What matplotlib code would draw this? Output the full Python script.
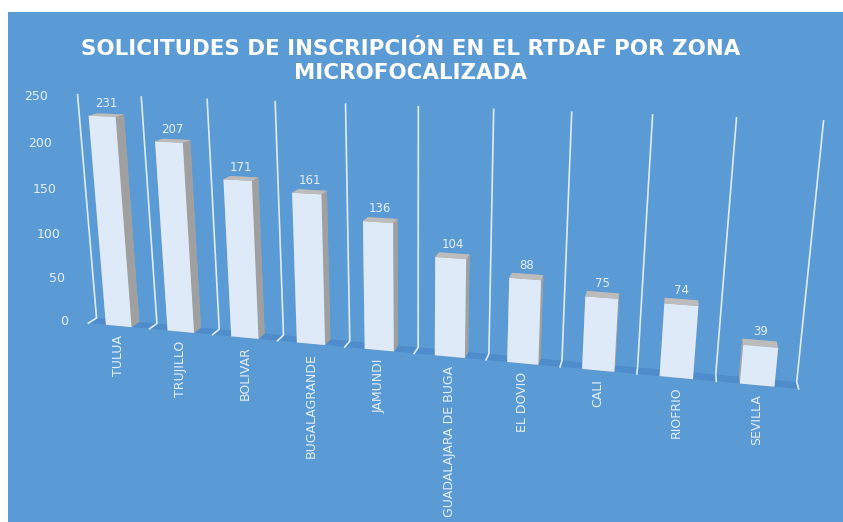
import numpy as np
import matplotlib
matplotlib.use('Agg')
import matplotlib.pyplot as plt
from matplotlib.patches import Rectangle
from mpl_toolkits.mplot3d import proj3d
from mpl_toolkits.mplot3d.art3d import Poly3DCollection

# datos
zonas = ['TULUA', 'TRUJILLO', 'BOLIVAR', 'BUGALAGRANDE', 'JAMUNDI',
         'GUADALAJARA DE BUGA', 'EL DOVIO', 'CALI', 'RIOFRIO', 'SEVILLA']
solicitudes = [231, 207, 171, 161, 136, 104, 88, 75, 74, 39]
ticks_z = [0, 50, 100, 150, 200, 250]
titulo = 'SOLICITUDES DE INSCRIPCIÓN EN EL RTDAF POR ZONA\nMICROFOCALIZADA'

AZUL = '#5B9BD5'
PISO = '#4E8CCB'
TEXTO = '#E4EEF9'
LINEA = '#DDEBF7'

fig = plt.figure(figsize=(8.43, 5.22), dpi=100)
fig.patch.set_facecolor('white')
fig.add_artist(Rectangle((8 / 843, 0), 1, 1 - 12 / 522, transform=fig.transFigure,
                         facecolor=AZUL, edgecolor='none', zorder=0))

# eje 3D cuadrado grande para escalar sin cambiar la perspectiva
ax = fig.add_axes([0.029, -0.197, 0.905, 1.462], projection='3d', proj_type='persp', focal_length=0.25)
ax.patch.set_alpha(0)
ax.set_axis_off()
ax.computed_zorder = False
ax.view_init(elev=15, azim=-76)
ax.set_box_aspect((787, 18, 265))

n = len(zonas)
x = np.arange(n)
ax.set_xlim(-0.5, n - 0.5)
ax.set_ylim(0, 1)
ax.set_zlim(0, 250)

# piso
piso = Poly3DCollection([[(-0.5, 0, 0), (n - 0.5, 0, 0), (n - 0.5, 1, 0), (-0.5, 1, 0)]],
                        facecolor=PISO, edgecolor='none', zorder=1)
ax.add_collection3d(piso)
piso.set_clip_on(False)

# lineas de division por categoria
for b in np.arange(-0.5, n + 0.5):
    ax.plot([b, b, b], [0, 1, 1], [0, 0, 250], color=LINEA, lw=1.2, zorder=2, clip_on=False)

# barras (caras: -z, +z, -y, +y, -x, +x)
caras = ['#A6A6A6', '#BCBCBC', '#DFEAF8', '#A6A6A6', '#A6A6A6', '#A0A0A0']
ancho = 0.42
barras = ax.bar3d(x - ancho / 2, 0, 0, ancho, 1, solicitudes, color=caras * n, shade=False, zorder=3)
barras.set_clip_on(False)

for xi, v in zip(x, solicitudes):
    ax.text(xi, 0.5, v + 5, str(v), ha='center', va='bottom', color=TEXTO, fontsize=8.5, zorder=5)

for t in ticks_z:
    ax.text(-0.83, 0, t, str(t), ha='right', va='center', color=TEXTO, fontsize=9, zorder=5)

# etiquetas de categoria: verticales, bajo el borde frontal del piso
fig.canvas.draw()
M = ax.get_proj()
for xi, z in zip(x, zonas):
    px, py, _ = proj3d.proj_transform(xi, 0, 0, M)
    X, Y = ax.transData.transform((px, py))
    fx, fy = fig.transFigure.inverted().transform((X, Y - 9))
    fig.text(fx, fy, z, rotation=90, ha='center', va='top', color=TEXTO, fontsize=9)

fig.text(0.487, 0.883, titulo, ha='center', va='center', fontsize=15.4, fontweight='bold',
         color='white', linespacing=1.25)

fig.savefig('out.png', dpi=100)
